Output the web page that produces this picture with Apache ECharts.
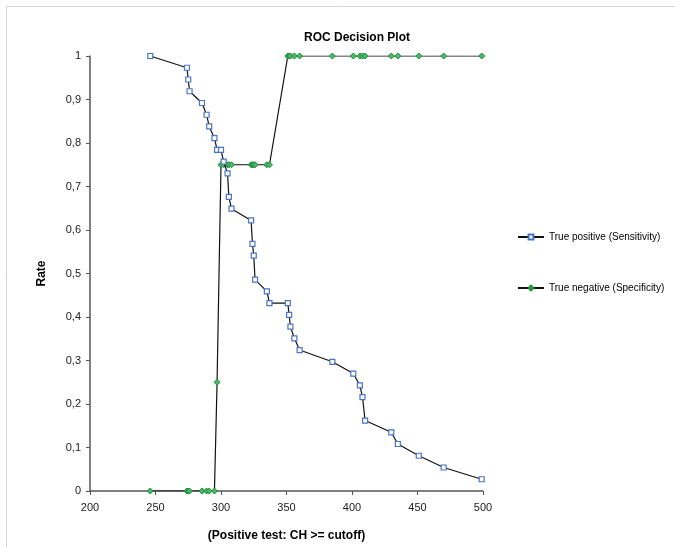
<!DOCTYPE html>
<html>
<head>
<meta charset="utf-8">
<script src="https://cdn.jsdelivr.net/npm/echarts@6/dist/echarts.min.js"></script>
<style>
html,body{margin:0;padding:0;background:#fff;}
#c{width:675px;height:547px;}
</style>
</head>
<body>
<div id="c"></div>
<script>
var cutoffs = [246, 274, 275, 276, 285.5, 289, 291, 295, 297, 300, 302, 305, 306, 308, 323, 324, 325, 326, 335, 337, 351, 352, 353, 356, 360, 385, 401, 406, 408, 410, 430, 435, 451, 470, 499];
var sensitivity = [1, 0.973, 0.946, 0.919, 0.892, 0.865, 0.838, 0.811, 0.784, 0.784, 0.757, 0.730, 0.676, 0.649, 0.622, 0.568, 0.541, 0.486, 0.459, 0.432, 0.432, 0.405, 0.378, 0.351, 0.324, 0.297, 0.270, 0.243, 0.216, 0.162, 0.135, 0.108, 0.081, 0.054, 0.027];
var specificity = [0, 0, 0, 0, 0, 0, 0, 0, 0.25, 0.75, 0.75, 0.75, 0.75, 0.75, 0.75, 0.75, 0.75, 0.75, 0.75, 0.75, 1, 1, 1, 1, 1, 1, 1, 1, 1, 1, 1, 1, 1, 1, 1];
var xTicks = [200, 250, 300, 350, 400, 450, 500];
var seriesNames = ['True positive (Sensitivity)', 'True negative (Specificity)'];

function pairs(xs, ys) { return xs.map(function (x, i) { return [x, ys[i]]; }); }

var font = 'Liberation Sans, Arial, sans-serif';
var chart = echarts.init(document.getElementById('c'), null, {renderer: 'canvas'});
chart.setOption({
  animation: false,
  backgroundColor: '#fff',
  graphic: [{
    type: 'rect', silent: true,
    shape: {x: 6.5, y: 6.5, width: 720, height: 600},
    style: {fill: 'none', stroke: '#d4d4d4', lineWidth: 1}
  }],
  title: {
    text: 'ROC Decision Plot',
    left: 352, top: 27, textAlign: 'center',
    textStyle: {fontFamily: font, fontSize: 12, fontWeight: 'bold', color: '#000'}
  },
  grid: {left: 90, right: 192, top: 56, bottom: 55, containLabel: false},
  legend: {
    orient: 'vertical', left: 517, top: 232, itemGap: 41, padding: 0,
    itemWidth: 26, itemHeight: 6,
    textStyle: {fontFamily: font, fontSize: 10, color: '#000'},
    data: seriesNames
  },
  xAxis: {
    type: 'value', min: 200, max: 500, interval: 50,
    name: '(Positive test: CH >= cutoff)', nameLocation: 'middle', nameGap: 39,
    nameTextStyle: {fontFamily: font, fontSize: 12, fontWeight: 'bold', color: '#000'},
    axisLine: {show: true, lineStyle: {color: '#555', width: 1.5}},
    axisTick: {show: true, length: 4, inside: false, lineStyle: {color: '#555', width: 1}},
    axisLabel: {fontFamily: font, fontSize: 11, color: '#222', margin: 11,
      formatter: function (v) { return xTicks.indexOf(v) >= 0 ? String(v) : ''; }},
    splitLine: {show: false}
  },
  yAxis: {
    type: 'value', min: 0, max: 1, interval: 0.1,
    name: 'Rate', nameLocation: 'middle', nameGap: 42, nameRotate: 90,
    nameTextStyle: {fontFamily: font, fontSize: 12, fontWeight: 'bold', color: '#000'},
    axisLine: {show: true, lineStyle: {color: '#555', width: 1.5}},
    axisTick: {show: true, length: 4, inside: false, lineStyle: {color: '#555', width: 1}},
    axisLabel: {fontFamily: font, fontSize: 11, color: '#222', margin: 9,
      formatter: function (v) { return String(Math.round(v * 10) / 10).replace('.', ','); }},
    splitLine: {show: false}
  },
  series: [{
    name: seriesNames[0], type: 'line',
    data: pairs(cutoffs, sensitivity),
    symbol: 'rect', symbolSize: 5, showAllSymbol: true,
    lineStyle: {color: '#111', width: 1.2},
    itemStyle: {color: '#fff', borderColor: '#4a74c9', borderWidth: 1.2},
    z: 3
  }, {
    name: seriesNames[1], type: 'line',
    data: pairs(cutoffs, specificity),
    symbol: 'diamond', symbolSize: 6, showAllSymbol: true,
    lineStyle: {color: '#111', width: 1.2},
    itemStyle: {color: '#4fb868', borderColor: '#1a8f3c', borderWidth: 1},
    z: 2
  }]
});
</script>
</body>
</html>
